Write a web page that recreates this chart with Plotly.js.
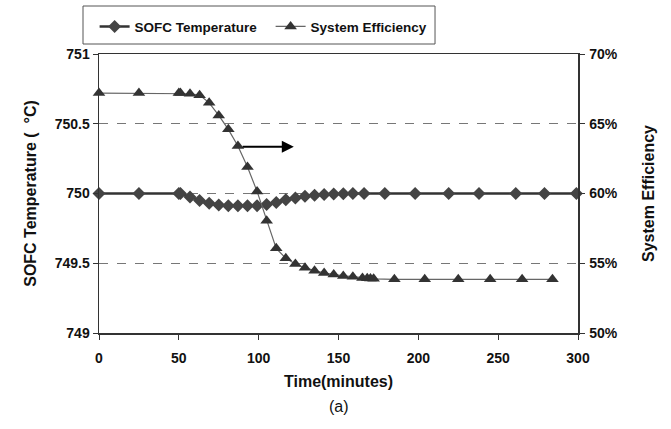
<!DOCTYPE html>
<html>
<head>
<meta charset="utf-8">
<script src="https://cdn.plot.ly/plotly-3.0.1.min.js"></script>
<style>html,body{margin:0;padding:0;background:#fff;}#chart{width:671px;height:429px;}</style>
</head>
<body>
<div id="chart"></div>
<script>
// Time (minutes) and SOFC temperature (°C)
var tempTime = [0, 25, 50, 51, 57, 63, 69, 75, 81, 87, 93, 99, 105, 111, 117, 123, 129, 135, 141, 147, 153, 159, 166, 179, 198, 219, 238, 261, 279, 299];
var tempValues = [750, 750, 750, 750, 749.975, 749.95, 749.93, 749.917, 749.913, 749.912, 749.912, 749.913, 749.922, 749.935, 749.955, 749.968, 749.98, 749.988, 749.993, 749.997, 749.998, 750, 750, 750, 750, 750, 750, 750, 750, 750];

// Time (minutes) and system efficiency (%)
var effTime = [0, 25, 50, 51, 57, 63, 69, 75, 81, 87, 93, 99, 105, 111, 117, 123, 129, 135, 141, 147, 153, 159, 165, 168, 170, 172, 185, 204, 225, 245, 265, 284];
var effValues = [67.2, 67.2, 67.2, 67.2, 67.15, 67.05, 66.5, 65.6, 64.6, 63.4, 61.9, 60.15, 58.05, 56.07, 55.35, 54.95, 54.68, 54.47, 54.3, 54.2, 54.09, 54.04, 53.95, 53.92, 53.9, 53.88, 53.85, 53.85, 53.85, 53.85, 53.85, 53.85];

var tempTicks = [749, 749.5, 750, 750.5, 751];
var tempTickText = ['749', '749.5', '750', '750.5', '751'];
var effTicks = [50, 55, 60, 65, 70];
var effTickText = ['50%', '55%', '60%', '65%', '70%'];
var xTicks = [0, 50, 100, 150, 200, 250, 300];
var xTickText = ['0', '50', '100', '150', '200', '250', '300'];

var FAM = 'Arial, "Liberation Sans", sans-serif';
var boldFont = {family: FAM, size: 14, color: '#111', weight: 'bold'};
var titleFont = {family: FAM, size: 16, color: '#111', weight: 'bold'};

var traces = [
  {
    x: tempTime, y: tempValues, name: 'SOFC Temperature', type: 'scatter', mode: 'lines+markers',
    line: {color: '#333', width: 2.4},
    marker: {symbol: 'diamond', size: 10, color: '#444'},
    yaxis: 'y', cliponaxis: false
  },
  {
    x: effTime, y: effValues, name: 'System Efficiency', type: 'scatter', mode: 'lines+markers',
    line: {color: '#666', width: 1.2},
    marker: {symbol: 'triangle-up', size: 11, color: '#333'},
    yaxis: 'y2', cliponaxis: false
  }
];

var layout = {
  width: 671, height: 429,
  margin: {l: 99, r: 93, t: 54, b: 96, autoexpand: false},
  paper_bgcolor: '#fff', plot_bgcolor: '#fff',
  showlegend: true,
  legend: {
    orientation: 'h', xref: 'container', yref: 'container',
    x: 0.141, y: 0.974, xanchor: 'left', yanchor: 'top',
    borderwidth: 0, bgcolor: 'rgba(0,0,0,0)',
    font: {family: FAM, size: 13.5, color: '#111', weight: 'bold'},
    entrywidth: 131, entrywidthmode: 'pixels'
  },
  shapes: [
    {type: 'rect', xref: 'paper', yref: 'paper', x0: -0.0334, x1: 0.7015, y0: 1.0358, y1: 1.172,
     line: {color: '#555', width: 1}, fillcolor: 'rgba(0,0,0,0)', layer: 'above'}
  ],
  xaxis: {
    range: [0, 300], tickvals: xTicks, ticktext: xTickText, ticks: 'outside', ticklen: 5, tickcolor: '#333',
    showline: true, linecolor: '#333', linewidth: 1.5, mirror: true,
    showgrid: false, zeroline: false, tickfont: boldFont, ticklabelstandoff: 7,
    title: {text: 'Time(minutes)', font: titleFont, standoff: 10}
  },
  yaxis: {
    range: [749, 751], tickvals: tempTicks, ticktext: tempTickText, ticks: 'outside', ticklen: 5, tickcolor: '#333',
    showline: true, linecolor: '#333', linewidth: 1.5,
    showgrid: true, gridcolor: '#777', gridwidth: 1, griddash: 'dash', zeroline: false, tickfont: boldFont,
    title: {text: 'SOFC Temperature (  °C)', font: titleFont, standoff: 14}
  },
  yaxis2: {
    range: [50, 70], tickvals: effTicks, ticktext: effTickText, overlaying: 'y', side: 'right',
    ticks: 'outside', ticklen: 5, tickcolor: '#333',
    showline: true, linecolor: '#333', linewidth: 1.5,
    showgrid: false, zeroline: false, tickfont: boldFont, ticklabelstandoff: 2,
    title: {text: 'System Efficiency', font: titleFont, standoff: 26}
  },
  annotations: [
    {
      xref: 'x', yref: 'y2', axref: 'x', ayref: 'y2',
      x: 122, y: 63.35, ax: 89, ay: 63.35,
      showarrow: true, arrowhead: 2, arrowsize: 1.2, arrowwidth: 2, arrowcolor: '#000', text: ''
    },
    {
      xref: 'paper', yref: 'paper', x: 0.5, y: -0.265, xanchor: 'center', yanchor: 'middle',
      text: '(a)', showarrow: false,
      font: {family: FAM, size: 16, color: '#111'}
    }
  ]
};

Plotly.newPlot('chart', traces, layout, {displayModeBar: false, staticPlot: true});
</script>
</body>
</html>
